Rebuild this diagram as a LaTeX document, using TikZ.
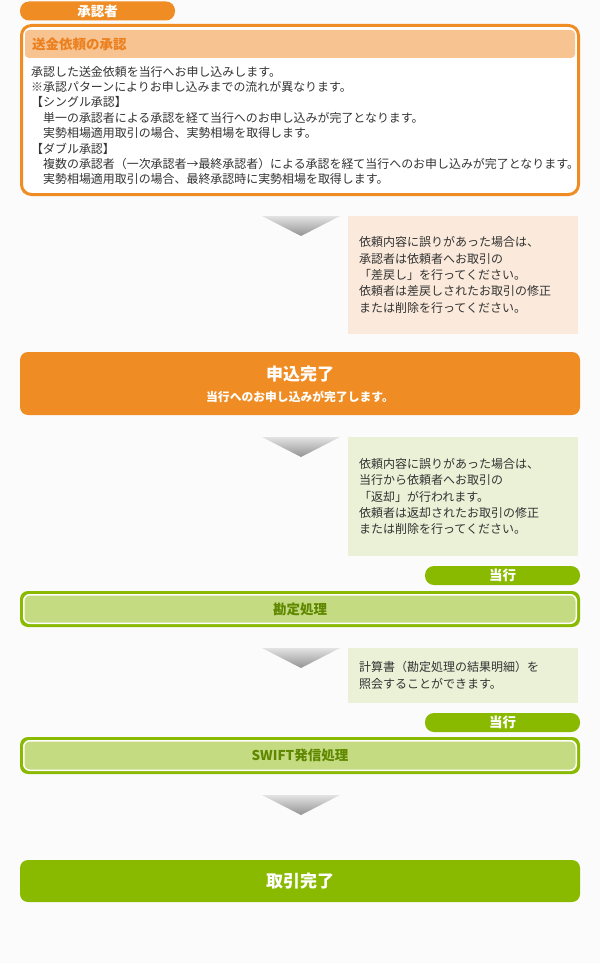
\documentclass[tikz,border=0pt]{standalone}
\usepackage{fontspec}
\setmainfont{Noto Sans CJK JP}
\usepackage{tikz}
\usetikzlibrary{shapes}

\definecolor{pagebg}{RGB}{251,251,251}
\definecolor{textgray}{RGB}{51,51,51}
\definecolor{flowor}{RGB}{239,141,36}
\definecolor{heador}{RGB}{246,195,145}
\definecolor{headtxt}{RGB}{236,128,30}
\definecolor{notepeach}{RGB}{251,234,219}
\definecolor{flowgr}{RGB}{137,186,0}
\definecolor{procgr}{RGB}{196,219,129}
\definecolor{proctxt}{RGB}{95,135,0}
\definecolor{notegr}{RGB}{235,241,215}

\begin{document}
\begin{tikzpicture}[
	x=1pt, y=-1pt,
	every node/.style={inner sep=0pt, text=textgray},
	tab/.style={rounded corners=9pt, minimum width=155pt, minimum height=19pt, text=white, font=\fontsize{13.5}{16}\selectfont\bfseries},
	bigbox/.style={rounded corners=8pt, minimum width=560pt, text=white, font=\fontsize{17}{20}\selectfont\bfseries},
	procframe/.style={fill=flowgr, rounded corners=8pt, minimum width=560pt},
	procbox/.style={fill=procgr, draw=white, line width=1.5pt, rounded corners=6pt, minimum width=552.5pt, text=proctxt, font=\fontsize{13.5}{16}\selectfont\bfseries},
	note/.style={text width=208pt, inner xsep=11pt, minimum width=230pt, align=left, font=\fontsize{12}{16.3}\selectfont},
	chevron/.style={top color=gray!22, bottom color=gray!85}
	]

	\fill[pagebg] (0,0) rectangle (600,963);

	% approver step
	\node[tab, fill=flowor] (approver) at (97.5,11) {承認者};
	\node[draw=flowor, line width=3pt, fill=white, rounded corners=10pt, minimum width=557pt, minimum height=169pt] (approval) at (300,110) {};
	\node[fill=heador, rounded corners=4pt, text width=536pt, inner xsep=7pt, minimum height=28pt, align=left, text=headtxt, font=\fontsize{13.5}{16}\selectfont\bfseries] (approvalhead) at (300,44) {送金依頼の承認};
	\node[anchor=north west, align=left, font=\fontsize{11.95}{15.4}\selectfont] (approvaltext) at (31,65.8) {承認した送金依頼を当行へお申し込みします。\\
		※承認パターンによりお申し込みまでの流れが異なります。\\
		【シングル承認】\\
		　単一の承認者による承認を経て当行へのお申し込みが完了となります。\\
		　実勢相場適用取引の場合、実勢相場を取得します。\\
		【ダブル承認】\\
		　複数の承認者（一次承認者→最終承認者）による承認を経て当行へのお申し込みが完了となります。\\
		　実勢相場適用取引の場合、最終承認時に実勢相場を取得します。};

	\node[note, fill=notepeach, minimum height=118pt] (sendback) at (463,275) {依頼内容に誤りがあった場合は、\\
		承認者は依頼者へお取引の\\
		「差戻し」を行ってください。\\
		依頼者は差戻しされたお取引の修正\\
		または削除を行ってください。};

	% application done
	\node[bigbox, fill=flowor, minimum height=63pt] (applied) at (300,383.5) {};
	\node[text=white, font=\fontsize{17}{20}\selectfont\bfseries] (appliedtitle) at (300,374) {申込完了};
	\node[text=white, font=\fontsize{11.8}{14}\selectfont\bfseries] (appliedsub) at (300,397) {当行へのお申し込みが完了します。};

	\node[note, fill=notegr, minimum height=119pt] (giveback) at (463,496.5) {依頼内容に誤りがあった場合は、\\
		当行から依頼者へお取引の\\
		「返却」が行われます。\\
		依頼者は返却されたお取引の修正\\
		または削除を行ってください。};

	% bank steps
	\node[tab, fill=flowgr] (bank1) at (502.5,575.5) {当行};
	\node[procframe, minimum height=36pt] (accountframe) at (300,609) {};
	\node[procbox, minimum height=28.5pt] (account) at (300,609) {勘定処理};

	\node[note, fill=notegr, minimum height=55pt] (statement) at (463,675.5) {計算書（勘定処理の結果明細）を\\
		照会することができます。};

	\node[tab, fill=flowgr] (bank2) at (502.5,722.5) {当行};
	\node[procframe, minimum height=37pt] (swiftframe) at (300,755.5) {};
	\node[procbox, minimum height=29.5pt] (swift) at (300,755.5) {SWIFT発信処理};

	\node[bigbox, fill=flowgr, minimum height=42pt] (finished) at (300,881) {取引完了};

	% flow marks
	\foreach \y in {216,437,648,795}
		\shade[chevron] (262,\y) -- (340,\y) -- (301,\y+20) -- cycle;

\end{tikzpicture}
\end{document}
